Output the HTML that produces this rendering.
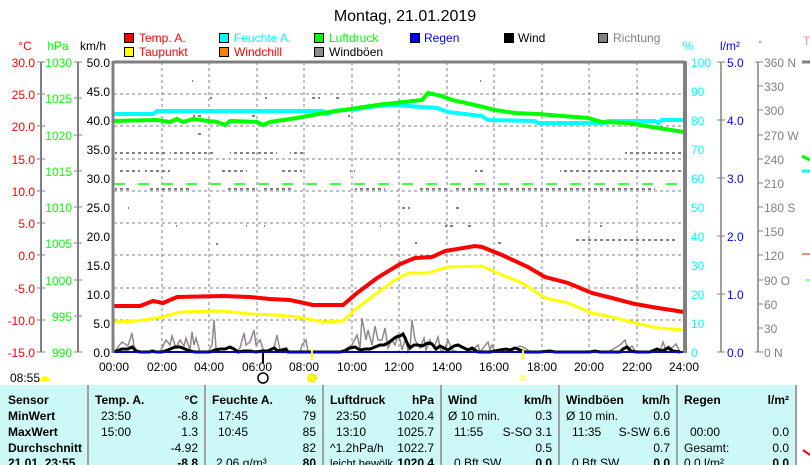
<!DOCTYPE html>
<html><head><meta charset="utf-8"><style>
body{margin:0;background:#fff;width:810px;height:465px;overflow:hidden;font-family:"Liberation Sans",sans-serif}
svg{position:absolute;left:0;top:0}
text{font-family:"Liberation Sans",sans-serif;font-size:12px}
</style></head><body>
<svg width="810" height="465" viewBox="0 0 810 465">
<defs><pattern id="dp" x="0" y="0" width="6" height="2" patternUnits="userSpaceOnUse"><rect x="0" y="0" width="3" height="2" fill="#808080"/></pattern></defs>
<text x="405" y="21" text-anchor="middle" style="font-size:16px">Montag, 21.01.2019</text>
<!-- legend -->
<g stroke="#000" stroke-width="1">
<rect x="124.5" y="33.5" width="9" height="9" fill="#f00"/><rect x="219.5" y="33.5" width="9" height="9" fill="#0ff"/><rect x="314.5" y="33.5" width="9" height="9" fill="#0f0"/><rect x="410.5" y="33.5" width="9" height="9" fill="#00f"/><rect x="504.5" y="33.5" width="9" height="9" fill="#000"/><rect x="598.5" y="33.5" width="9" height="9" fill="#808080"/>
<rect x="124.5" y="47.5" width="9" height="9" fill="#ff0"/><rect x="219.5" y="47.5" width="9" height="9" fill="#ff8000"/><rect x="314.5" y="47.5" width="9" height="9" fill="#908890"/>
</g>
<text x="139" y="42" fill="#f00">Temp. A.</text><text x="234" y="42" fill="#0ff">Feuchte A.</text><text x="329" y="42" fill="#0f0">Luftdruck</text><text x="424" y="42" fill="#00f">Regen</text><text x="518" y="42">Wind</text><text x="613" y="42" fill="#808080">Richtung</text>
<text x="139" y="56" fill="#f00">Taupunkt</text><text x="234" y="56" fill="#f00">Windchill</text><text x="329" y="56">Windböen</text>
<text x="25" y="50" text-anchor="middle" fill="#f00">°C</text><text x="58" y="50" text-anchor="middle" fill="#0f0">hPa</text><text x="93" y="50" text-anchor="middle">km/h</text>
<text x="688" y="50" text-anchor="middle" fill="#0ff">%</text><text x="730" y="50" text-anchor="middle" fill="#00f">l/m²</text><text x="760" y="47" text-anchor="middle" fill="#808080" style="font-size:9px">°</text><text x="803" y="45" fill="#f88">T</text>
<!-- left axes -->
<g stroke="#808080" stroke-width="2"><line x1="41" y1="62" x2="41" y2="352"/><line x1="78" y1="62" x2="78" y2="352"/></g>
<g fill="#f00" text-anchor="end">
<text x="35" y="67">30.0</text><text x="35" y="99">25.0</text><text x="35" y="131">20.0</text><text x="35" y="164">15.0</text><text x="35" y="196">10.0</text><text x="35" y="228">5.0</text><text x="35" y="260">0.0</text><text x="35" y="293">-5.0</text><text x="35" y="325">-10.0</text><text x="35" y="357">-15.0</text></g>
<g stroke="#808080"><line x1="37" y1="62" x2="45" y2="62"/><line x1="37" y1="94" x2="45" y2="94"/><line x1="37" y1="126" x2="45" y2="126"/><line x1="37" y1="159" x2="45" y2="159"/><line x1="37" y1="191" x2="45" y2="191"/><line x1="37" y1="223" x2="45" y2="223"/><line x1="37" y1="255" x2="45" y2="255"/><line x1="37" y1="288" x2="45" y2="288"/><line x1="37" y1="320" x2="45" y2="320"/><line x1="37" y1="352" x2="45" y2="352"/>
<line x1="74" y1="62" x2="82" y2="62"/><line x1="74" y1="98" x2="82" y2="98"/><line x1="74" y1="135" x2="82" y2="135"/><line x1="74" y1="171" x2="82" y2="171"/><line x1="74" y1="207" x2="82" y2="207"/><line x1="74" y1="243" x2="82" y2="243"/><line x1="74" y1="280" x2="82" y2="280"/><line x1="74" y1="316" x2="82" y2="316"/><line x1="74" y1="352" x2="82" y2="352"/></g>
<g fill="#0f0" text-anchor="end">
<text x="72" y="67">1030</text><text x="72" y="103">1025</text><text x="72" y="140">1020</text><text x="72" y="176">1015</text><text x="72" y="212">1010</text><text x="72" y="248">1005</text><text x="72" y="285">1000</text><text x="72" y="321">995</text><text x="72" y="357">990</text></g>
<g text-anchor="end"><text x="110" y="67">50.0</text><text x="110" y="96">45.0</text><text x="110" y="125">40.0</text><text x="110" y="154">35.0</text><text x="110" y="183">30.0</text><text x="110" y="212">25.0</text><text x="110" y="241">20.0</text><text x="110" y="270">15.0</text><text x="110" y="299">10.0</text><text x="110" y="328">5.0</text><text x="110" y="357">0.0</text></g>
<!-- grid -->
<g stroke="#808080" stroke-dasharray="3,3" stroke-width="1">
<line x1="114" y1="94" x2="684" y2="94"/><line x1="114" y1="126" x2="684" y2="126"/><line x1="114" y1="159" x2="684" y2="159"/><line x1="114" y1="191" x2="684" y2="191"/><line x1="114" y1="223" x2="684" y2="223"/><line x1="114" y1="255" x2="684" y2="255"/><line x1="114" y1="288" x2="684" y2="288"/><line x1="114" y1="320" x2="684" y2="320"/>
<line x1="162" y1="62" x2="162" y2="352"/><line x1="209" y1="62" x2="209" y2="352"/><line x1="257" y1="62" x2="257" y2="352"/><line x1="304" y1="62" x2="304" y2="352"/><line x1="352" y1="62" x2="352" y2="352"/><line x1="399" y1="62" x2="399" y2="352"/><line x1="447" y1="62" x2="447" y2="352"/><line x1="494" y1="62" x2="494" y2="352"/><line x1="542" y1="62" x2="542" y2="352"/><line x1="589" y1="62" x2="589" y2="352"/><line x1="637" y1="62" x2="637" y2="352"/>
</g>
<!-- direction dots -->
<g fill="url(#dp)">
<rect x="141" y="80" width="2" height="2"/><rect x="191" y="80" width="2" height="2"/><rect x="479" y="80" width="2" height="2"/><rect x="207" y="97" width="5" height="2"/><rect x="265" y="97" width="3" height="2"/><rect x="285" y="97" width="2" height="2"/><rect x="310" y="97" width="10" height="2"/><rect x="333" y="97" width="8" height="2"/><rect x="193" y="115" width="10" height="2"/><rect x="250" y="115" width="5" height="2"/><rect x="305" y="115" width="6" height="2"/><rect x="345" y="115" width="5" height="2"/><rect x="165" y="133" width="2" height="2"/><rect x="195" y="133" width="8" height="2"/><rect x="303" y="133" width="3" height="2"/><rect x="115" y="152" width="50" height="2"/><rect x="170" y="152" width="45" height="2"/><rect x="230" y="152" width="35" height="2"/><rect x="265" y="152" width="12" height="2"/><rect x="290" y="152" width="15" height="2"/><rect x="120" y="170" width="20" height="2"/><rect x="145" y="170" width="25" height="2"/><rect x="222" y="170" width="25" height="2"/><rect x="280" y="170" width="22" height="2"/><rect x="350" y="170" width="5" height="2"/><rect x="115" y="188" width="15" height="2"/><rect x="150" y="188" width="40" height="2"/><rect x="225" y="188" width="30" height="2"/><rect x="262" y="188" width="30" height="2"/><rect x="355" y="188" width="30" height="2"/><rect x="420" y="188" width="30" height="2"/><rect x="455" y="188" width="200" height="2"/><rect x="128" y="207" width="2" height="2"/><rect x="220" y="207" width="2" height="2"/><rect x="400" y="207" width="10" height="2"/><rect x="435" y="207" width="2" height="2"/><rect x="455" y="207" width="6" height="2"/><rect x="176" y="225" width="2" height="2"/><rect x="245" y="225" width="2" height="2"/><rect x="263" y="225" width="2" height="2"/><rect x="380" y="225" width="2" height="2"/><rect x="445" y="225" width="10" height="2"/><rect x="465" y="225" width="6" height="2"/><rect x="545" y="225" width="2" height="2"/><rect x="600" y="225" width="2" height="2"/><rect x="216" y="243" width="2" height="2"/><rect x="375" y="243" width="2" height="2"/><rect x="415" y="242" width="5" height="2"/><rect x="495" y="242" width="6" height="2"/><rect x="575" y="239" width="100" height="2"/><rect x="525" y="131" width="2" height="2"/><rect x="625" y="152" width="60" height="2"/><rect x="560" y="170" width="125" height="2"/><rect x="475" y="170" width="10" height="2"/></g>
<line x1="114" y1="184" x2="684" y2="184" stroke="#0f0" stroke-width="1.5" stroke-dasharray="11,13"/>
<!-- gusts -->
<polyline fill="none" stroke="#908890" stroke-width="1.5" points="114,352 122,342 128,346 132,333 134,346 138,352 150,352 160,352 166,340 170,345 172,336 176,348 180,340 184,346 186,338 190,350 192,332 194,345 196,338 200,352 208,352 212,345 214,320 216,348 220,352 225,352 236,352 240,348 244,333 246,345 250,342 254,330 256,345 260,340 264,352 270,352 274,348 277,335 280,350 285,352 300,352 302,345 306,340 308,352 325,352 340,352 352,345 357,335 360,348 362,318 366,340 368,330 372,345 375,326 378,340 382,340 385,328 388,348 392,340 395,345 398,335 400,340 402,350 406,337 408,352 410,348 412,320 415,340 420,348 424,338 426,350 430,340 434,348 438,337 441,352 445,348 448,340 452,350 458,352 470,352 478,345 480,352 488,342 490,350 492,345 495,352 510,352 520,346 525,348 530,352 545,352 570,352 585,352 590,352 608,352 620,345 625,340 628,350 632,346 636,352 660,352 663,342 666,350 668,346 672,348 676,344 680,352"/>
<!-- wind -->
<polyline fill="none" stroke="#000" stroke-width="3" points="114,352 122,349 128,349 132,347 136,351 140,352 150,352 152,351 156,352 162,352 168,350 175,347 180,347 185,349 190,351 195,352 205,352 210,352 215,350 220,349 225,349 230,347 234,349 238,352 244,351 250,351 256,352 262,351 268,351 274,348 278,351 282,350 286,349 288,352 292,352 340,352 345,351 350,348 355,347 360,350 365,349 370,349 375,347 380,345 384,345 388,343 392,340 396,337 400,336 403,334 405,338 408,345 410,348 414,345 418,345 422,346 428,343 432,344 436,349 440,346 444,348 448,350 454,346 458,345 462,347 468,350 472,348 478,352 490,352 500,350 506,349 510,350 515,348 520,350 525,352 540,352 550,351 555,352 565,352 590,352 595,351 600,352 620,352 623,349 627,347 631,351 636,352 650,352 657,349 662,351 668,348 673,351 680,352"/>
<line x1="114" y1="352" x2="684" y2="352" stroke="#0000d0" stroke-width="2"/>
<!-- series -->
<polyline fill="none" stroke="#f00" stroke-width="4" points="113,306 140,306 153,301 163,303 177,297 223,296 250,297 270,299 290,300 313,305 343,305 357,293 377,278 400,264 415,258 432,257 445,251 475,246 482,247 502,255 528,267 545,277 568,283 592,293 612,298 635,304 658,308 684,312"/>
<polyline fill="none" stroke="#ff0" stroke-width="3" points="113,322 137,321 163,317 180,312 223,311 250,314 277,315 297,317 323,322 343,321 357,308 377,293 395,280 408,273 428,273 448,267 482,266 495,272 522,283 545,298 568,303 592,313 612,317 635,323 658,328 684,330"/>
<polyline fill="none" stroke="#0ff" stroke-width="4" points="113,114 153,114 157,111 323,111 328,114 333,111 357,109 377,106 395,105 437,108 448,112 482,116 488,120 535,121 538,123 605,123 608,121 655,121 658,123 662,120 684,120"/>
<polyline fill="none" stroke="#0f0" stroke-width="4" points="113,121 157,120 170,122 177,119 183,122 193,119 217,122 225,125 230,121 257,122 263,125 270,122 297,118 323,113 357,108 377,105 395,103 422,100 428,93 442,96 452,100 475,105 495,110 515,113 538,114 588,118 602,122 628,123 658,128 684,132"/>
<!-- plot frame -->
<g stroke="#808080" stroke-width="3"><line x1="113" y1="62" x2="685" y2="62"/><line x1="113" y1="61" x2="113" y2="353"/></g>
<line x1="685" y1="61" x2="685" y2="353" stroke="#808080" stroke-width="4"/>
<!-- x labels -->
<g text-anchor="middle"><text x="114" y="371">00:00</text><text x="162" y="371">02:00</text><text x="209" y="371">04:00</text><text x="257" y="371">06:00</text><text x="304" y="371">08:00</text><text x="352" y="371">10:00</text><text x="399" y="371">12:00</text><text x="447" y="371">14:00</text><text x="494" y="371">16:00</text><text x="542" y="371">18:00</text><text x="589" y="371">20:00</text><text x="637" y="371">22:00</text><text x="684" y="371">24:00</text></g>
<line x1="263" y1="352" x2="263" y2="363" stroke="#000" stroke-width="2"/>
<circle cx="263" cy="378" r="5" fill="none" stroke="#000" stroke-width="1.5"/>
<line x1="312" y1="350" x2="312" y2="360" stroke="#ff0" stroke-width="2"/>
<circle cx="312" cy="378" r="4" fill="#ff0" stroke="#ffd000" stroke-width="2" stroke-dasharray="1,1"/>
<line x1="523" y1="350" x2="523" y2="360" stroke="#ff0" stroke-width="2"/>
<rect x="521" y="376" width="4" height="4" fill="none" stroke="#ff0"/>
<text x="10" y="382">08:55</text>
<path d="M40,381 a5,5 0 0 1 10,0 z" fill="#ff0"/>
<!-- right axes -->
<g fill="#0ff"><text x="691" y="67">100</text><text x="691" y="96">90</text><text x="691" y="125">80</text><text x="691" y="154">70</text><text x="691" y="183">60</text><text x="691" y="212">50</text><text x="691" y="241">40</text><text x="691" y="270">30</text><text x="691" y="299">20</text><text x="691" y="328">10</text><text x="691" y="357">0</text></g>
<line x1="721" y1="62" x2="721" y2="352" stroke="#808080" stroke-width="1.5"/>
<g stroke="#808080"><line x1="717" y1="62" x2="725" y2="62"/><line x1="717" y1="120" x2="725" y2="120"/><line x1="717" y1="178" x2="725" y2="178"/><line x1="717" y1="236" x2="725" y2="236"/><line x1="717" y1="294" x2="725" y2="294"/><line x1="717" y1="352" x2="725" y2="352"/></g>
<g fill="#00f"><text x="727" y="67">5.0</text><text x="727" y="125">4.0</text><text x="727" y="183">3.0</text><text x="727" y="241">2.0</text><text x="727" y="299">1.0</text><text x="727" y="357">0.0</text></g>
<line x1="758" y1="62" x2="758" y2="352" stroke="#808080" stroke-width="1.5"/>
<g stroke="#808080"><line x1="755" y1="62" x2="763" y2="62"/><line x1="758" y1="86" x2="763" y2="86"/><line x1="758" y1="110" x2="763" y2="110"/><line x1="758" y1="135" x2="763" y2="135"/><line x1="758" y1="159" x2="763" y2="159"/><line x1="758" y1="183" x2="763" y2="183"/><line x1="758" y1="207" x2="763" y2="207"/><line x1="758" y1="231" x2="763" y2="231"/><line x1="758" y1="255" x2="763" y2="255"/><line x1="758" y1="280" x2="763" y2="280"/><line x1="758" y1="304" x2="763" y2="304"/><line x1="758" y1="328" x2="763" y2="328"/><line x1="755" y1="352" x2="763" y2="352"/></g>
<g fill="#808080"><text x="764" y="67">360 N</text><text x="764" y="91">330</text><text x="764" y="115">300</text><text x="764" y="140">270 W</text><text x="764" y="164">240</text><text x="764" y="188">210</text><text x="764" y="212">180 S</text><text x="764" y="236">150</text><text x="764" y="260">120</text><text x="764" y="285">90  O</text><text x="764" y="309">60</text><text x="764" y="333">30</text><text x="764" y="357">0   N</text></g>
<line x1="802" y1="62" x2="810" y2="62" stroke="#808080" stroke-width="3"/>
<line x1="802" y1="156" x2="810" y2="160" stroke="#0f0" stroke-width="3"/>
<line x1="802" y1="171" x2="810" y2="171" stroke="#0ff" stroke-width="3"/>
<line x1="802" y1="254" x2="810" y2="254" stroke="#f88" stroke-width="2"/>
<line x1="806" y1="280" x2="810" y2="280" stroke="#0f0" stroke-width="1"/>
<!-- table -->
<rect x="0" y="385" width="795" height="80" fill="#ccf8f8"/>
<g stroke="#a0a0a0" stroke-width="2"><line x1="88" y1="385" x2="88" y2="465"/><line x1="205" y1="385" x2="205" y2="465"/><line x1="323" y1="385" x2="323" y2="465"/><line x1="441" y1="385" x2="441" y2="465"/><line x1="559" y1="385" x2="559" y2="465"/><line x1="677" y1="385" x2="677" y2="465"/><line x1="796" y1="385" x2="796" y2="465"/></g>
<line x1="803" y1="450" x2="810" y2="455" stroke="#f00" stroke-width="2"/>
<g font-weight="bold"><text x="8" y="404" font-weight="bold">Sensor</text><text x="8" y="420" font-weight="bold">MinWert</text><text x="8" y="436" font-weight="bold">MaxWert</text><text x="8" y="452" font-weight="bold">Durchschnitt</text><text x="8" y="467" font-weight="bold">21.01. 23:55</text>
<text x="95" y="404" font-weight="bold">Temp. A.</text><text x="198" y="404" text-anchor="end" font-weight="bold">°C</text>
<text x="212" y="404" font-weight="bold">Feuchte A.</text><text x="316" y="404" text-anchor="end" font-weight="bold">%</text>
<text x="330" y="404" font-weight="bold">Luftdruck</text><text x="434" y="404" text-anchor="end" font-weight="bold">hPa</text>
<text x="448" y="404" font-weight="bold">Wind</text><text x="552" y="404" text-anchor="end" font-weight="bold">km/h</text>
<text x="566" y="404" font-weight="bold">Windböen</text><text x="670" y="404" text-anchor="end" font-weight="bold">km/h</text>
<text x="684" y="404" font-weight="bold">Regen</text><text x="789" y="404" text-anchor="end" font-weight="bold">l/m²</text></g>
<text x="101" y="420">23:50</text><text x="198" y="420" text-anchor="end">-8.8</text>
<text x="101" y="436">15:00</text><text x="198" y="436" text-anchor="end">1.3</text>
<text x="198" y="452" text-anchor="end">-4.92</text><text x="198" y="467" text-anchor="end" font-weight="bold">-8.8</text>
<text x="218" y="420">17:45</text><text x="316" y="420" text-anchor="end">79</text>
<text x="218" y="436">10:45</text><text x="316" y="436" text-anchor="end">85</text>
<text x="316" y="452" text-anchor="end">82</text><text x="216" y="467">2.06 g/m³</text><text x="316" y="467" text-anchor="end" font-weight="bold">80</text>
<text x="336" y="420">23:50</text><text x="434" y="420" text-anchor="end">1020.4</text>
<text x="336" y="436">13:10</text><text x="434" y="436" text-anchor="end">1025.7</text>
<text x="330" y="452">^1.2hPa/h</text><text x="434" y="452" text-anchor="end">1022.7</text>
<text x="330" y="467" style="font-size:11px">leicht bewölk</text><text x="434" y="467" text-anchor="end" font-weight="bold">1020.4</text>
<text x="448" y="420">Ø 10 min.</text><text x="552" y="420" text-anchor="end">0.3</text>
<text x="454" y="436">11:55</text><text x="552" y="436" text-anchor="end">S-SO 3.1</text>
<text x="552" y="452" text-anchor="end">0.5</text><text x="454" y="467">0 Bft SW</text><text x="552" y="467" text-anchor="end" font-weight="bold">0.0</text>
<text x="566" y="420">Ø 10 min.</text><text x="670" y="420" text-anchor="end">0.0</text>
<text x="572" y="436">11:35</text><text x="670" y="436" text-anchor="end">S-SW 6.6</text>
<text x="670" y="452" text-anchor="end">0.7</text><text x="572" y="467">0 Bft SW</text><text x="670" y="467" text-anchor="end" font-weight="bold">0.0</text>
<text x="690" y="436">00:00</text><text x="789" y="436" text-anchor="end">0.0</text>
<text x="684" y="452">Gesamt:</text><text x="789" y="452" text-anchor="end">0.0</text>
<text x="684" y="467">0.0 l/m²</text><text x="789" y="467" text-anchor="end" font-weight="bold">0.0</text>
</svg>
</body></html>
